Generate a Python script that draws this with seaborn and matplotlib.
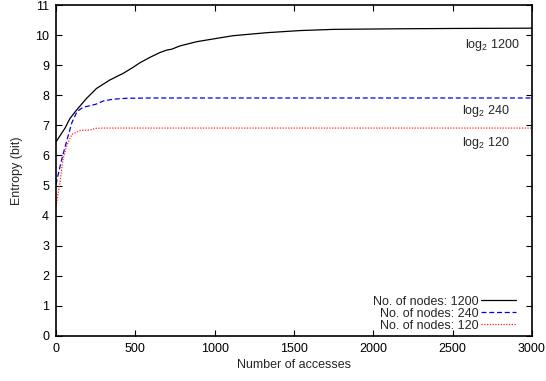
import matplotlib
matplotlib.use("Agg")
import matplotlib.pyplot as plt
import pandas as pd
import seaborn as sns

# values
n1200_x = [0, 57, 88, 130, 193, 256, 340, 424, 477, 529, 592, 655, 697, 729,
           781, 886, 1012, 1117, 1328, 1537, 1747, 1958, 2167, 2500, 3000]
n1200_y = [6.45, 6.91, 7.23, 7.51, 7.90, 8.23, 8.51, 8.73, 8.90, 9.08, 9.26,
           9.42, 9.50, 9.53, 9.64, 9.78, 9.89, 9.98, 10.08, 10.15, 10.19,
           10.20, 10.21, 10.22, 10.23]

n240_x = [0, 25, 44, 70, 100, 133, 170, 210, 250, 298, 361, 445, 600, 1000,
          2000, 3000]
n240_y = [5.04, 5.63, 6.03, 6.53, 7.09, 7.46, 7.60, 7.65, 7.70, 7.81, 7.87,
          7.90, 7.91, 7.91, 7.91, 7.91]

n120_x = [0, 25, 44, 70, 100, 152, 200, 228, 245, 300, 600, 1000, 2000, 3000]
n120_y = [4.31, 5.10, 5.87, 6.36, 6.70, 6.83, 6.84, 6.86, 6.90, 6.91, 6.91,
          6.91, 6.91, 6.91]

series_labels = ["No. of nodes: 1200", "No. of nodes: 240", "No. of nodes: 120"]
annot_text = ["log$_2$ 1200", "log$_2$ 240", "log$_2$ 120"]
annot_x = [2575, 2560, 2560]
annot_y = [9.68, 7.49, 6.40]

x_ticks = [0, 500, 1000, 1500, 2000, 2500, 3000]
y_ticks = list(range(0, 12))

FS = 9

sns.set_style("ticks")
plt.rcParams["font.family"] = ["Liberation Sans", "DejaVu Sans"]
plt.rcParams["mathtext.default"] = "regular"
plt.rcParams["font.size"] = FS

fig = plt.figure(figsize=(5.46, 3.81), dpi=100)
ax = fig.add_axes([56 / 546, 1 - 336 / 381, 476 / 546, 331 / 381])

styles = [("black", "-", None), ("#0000ee", "--", (4.0, 2.2)), ("#ff2020", ":", (1.0, 1.2))]
for (xs, ys), label, (color, ls, dashes) in zip(
        [(n1200_x, n1200_y), (n240_x, n240_y), (n120_x, n120_y)],
        series_labels, styles):
    df = pd.DataFrame({"x": xs, "y": ys})
    line = sns.lineplot(data=df, x="x", y="y", ax=ax, color=color,
                        linewidth=0.9, label=label).lines[-1]
    if dashes is not None:
        line.set_dashes(dashes)

for t, x, y in zip(annot_text, annot_x, annot_y):
    ax.text(x, y, t, fontsize=FS, va="center", ha="left")

ax.set_xlim(0, 3000)
ax.set_ylim(0, 11)
ax.set_xticks(x_ticks)
ax.set_yticks(y_ticks)
ax.tick_params(direction="in", length=4, width=0.8, top=True, right=True,
               pad=5, labelsize=FS, colors="black")
for sp in ax.spines.values():
    sp.set_visible(True)
    sp.set_linewidth(1.2)
    sp.set_color("black")

ax.set_xlabel("Number of accesses", fontsize=FS, labelpad=3)
ax.set_ylabel("Entropy (bit)", fontsize=FS, labelpad=9)

leg = ax.legend(loc="lower right", frameon=False, markerfirst=False,
                handlelength=2.8, handletextpad=0.15, labelspacing=0.0,
                borderaxespad=0.0, borderpad=0.35, fontsize=FS,
                bbox_to_anchor=(1 - 12 / 476, 0.0))

fig.savefig("out.png", dpi=100)
